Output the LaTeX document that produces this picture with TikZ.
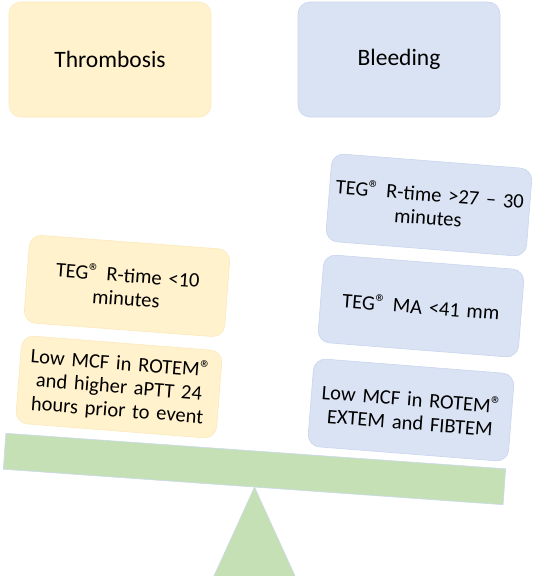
\documentclass[tikz,border=0pt]{standalone}
\usepackage{fontspec}
\setmainfont{Carlito}
\newcommand\regmark{\raisebox{0.05em}{\fontsize{22}{22}\selectfont ®}}
\definecolor{yfill}{HTML}{FFF2CC}
\definecolor{yline}{HTML}{FBE9BC}
\definecolor{bfill}{HTML}{DAE3F3}
\definecolor{bline}{HTML}{C9D5EE}
\definecolor{gfill}{HTML}{C5E0B4}
\definecolor{gline}{HTML}{CBD8EE}
\begin{document}
\begin{tikzpicture}[x=1pt,y=-1pt,
  base/.style={rounded corners=12pt, line width=0.6pt, align=center, inner sep=0pt},
  titlebox/.style={base, minimum width=202pt, minimum height=115pt, font=\fontsize{23.5}{28}\selectfont},
  smallbox/.style={base, minimum width=201pt, minimum height=88pt, text width=195pt, font=\fontsize{20.5}{23.5}\selectfont},
  yel/.style={draw=yline, fill=yfill},
  blu/.style={draw=bline, fill=bfill}]
\useasboundingbox (0,0) rectangle (536,576);
% top category boxes
\node[titlebox, yel] (thr) at (110,59.5) {Thrombosis};
\node[titlebox, blu] (ble) at (399,59.5) {Bleeding};
% fulcrum
\coordinate (apex) at (254.5,487);
\coordinate (bl) at (213,578);
\coordinate (br) at (296,578);
\fill[gfill] (apex) -- (br) -- (bl) -- cycle;
\draw[gline, line width=0.5pt] (bl) -- (apex) -- (br);
% beam
\node[draw=gline, fill=gfill, line width=0.6pt, minimum width=501pt, minimum height=36pt, inner sep=0pt, rotate=-4.06] (beam) at (254.5,469) {};
% left boxes
\node[smallbox, yel, rotate=-4.3] (l1) at (127,286) {TEG\regmark{} R-time <10\\minutes};
\node[smallbox, yel, rotate=-4.5] (l2) at (119,387) {Low MCF in ROTEM\regmark\\and higher aPTT 24\\hours prior to event};
% right boxes
\node[smallbox, blu, rotate=-4.5] (r1) at (429,205) {TEG\regmark{} R-time >27 – 30\\minutes};
\node[smallbox, blu, rotate=-4.5] (r2) at (421,306) {TEG\regmark{} MA <41 mm};
\node[smallbox, blu, rotate=-4.5] (r3) at (411,410) {Low MCF in ROTEM\regmark\\EXTEM and FIBTEM};
\end{tikzpicture}
\end{document}
